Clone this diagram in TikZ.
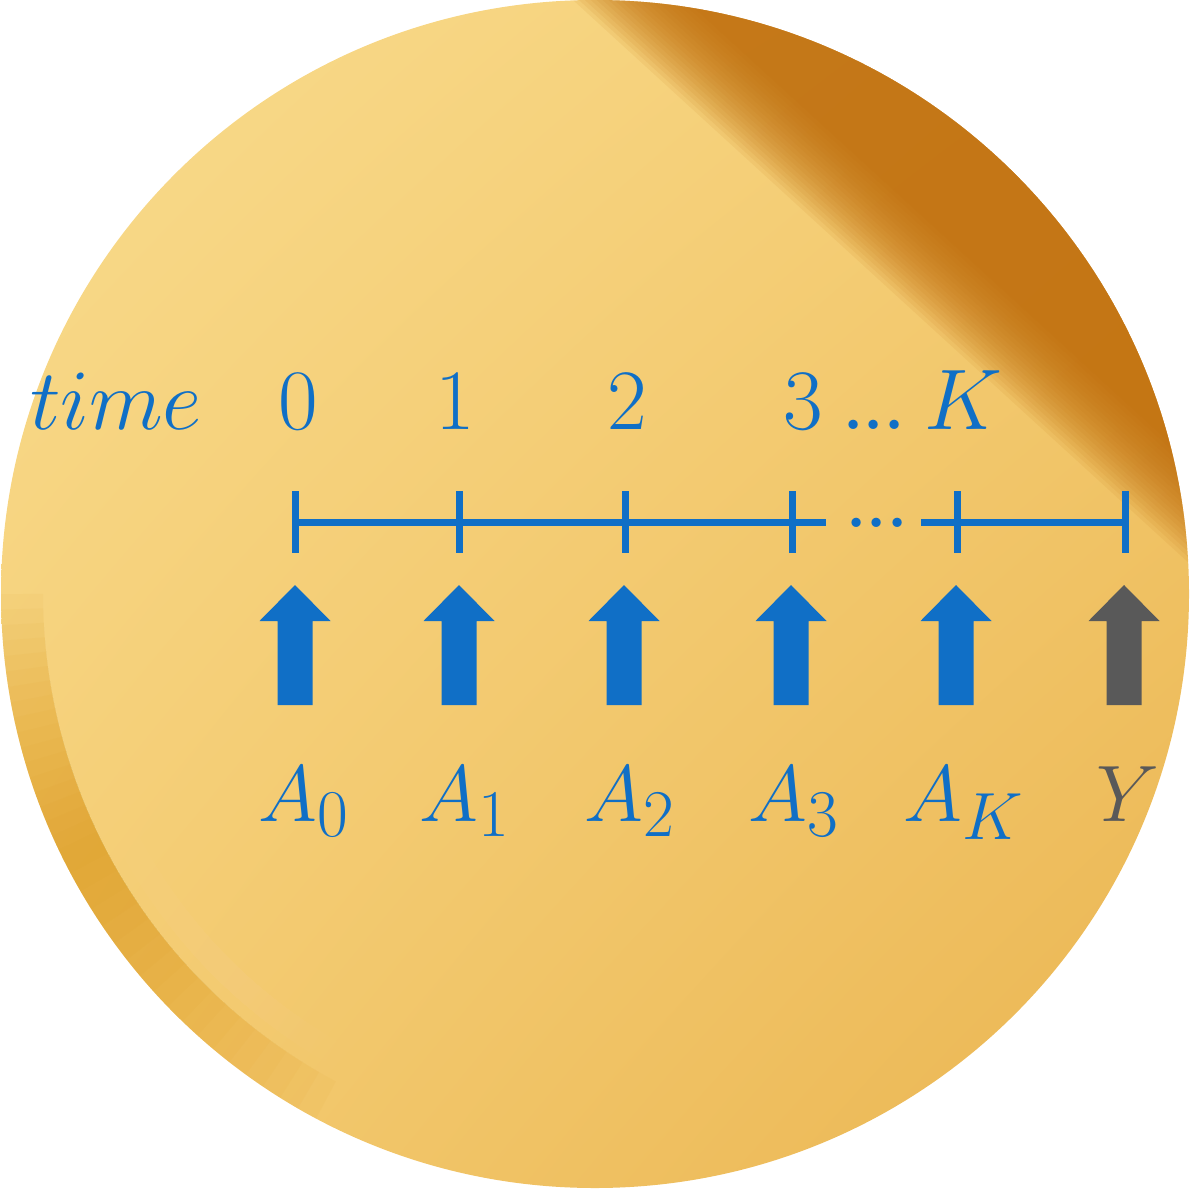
\documentclass[tikz,border=0pt]{standalone}
\usetikzlibrary{shadings}
\definecolor{tblue}{RGB}{16,111,198}
\definecolor{tgray}{RGB}{89,89,89}
\definecolor{goldA}{RGB}{249,220,142}
\definecolor{goldB}{RGB}{244,204,114}
\definecolor{goldC}{RGB}{234,180,80}
\definecolor{goldD}{RGB}{192,108,10}
\definecolor{goldE}{RGB}{222,152,24}
\begin{document}
\begin{tikzpicture}[x=1pt,y=-1pt,
  toplbl/.style={text=tblue, inner sep=0pt, anchor=base, font=\Huge, scale=3.46},
  dotlbl/.style={text=tblue, inner sep=0pt, anchor=base, font=\Huge\bfseries, scale=2.6},
  botlbl/.style={inner sep=0pt, anchor=base, font=\Huge, scale=3.22},
  tline/.style={draw=tblue, line width=7pt},
  uparrow/.pic={\fill[pic actions] (0,0) -- (35.5,36) -- (17.5,36) -- (17.5,120) -- (-17.5,120) -- (-17.5,36) -- (-35.5,36) -- cycle;}
]
\useasboundingbox (0,0) rectangle (1190,1188);
% gold satin disc
\begin{scope}
  \clip (595,594) circle (594);
  \shade[upper left=goldA, upper right=goldB, lower left=goldB, lower right=goldC] (0,0) rectangle (1190,1188);
  % dark fold at the top right
  \foreach \s in {-44,-40,...,32} {
    \fill[goldD, opacity=0.085, shift={(0.675*\s,-0.738*\s)}]
      (217,-385) -- (1626,903) -- (2638,-204) -- (1229,-1492) -- cycle;
  }
  % darker rim and highlight at the bottom left
  \foreach \i in {0,...,17} {
    \draw[goldE, line width=44pt, opacity=0.05]
      (595,594) ++(118+2*\i:574) arc[start angle=118+2*\i, end angle=180-1.5*\i, radius=574];
    \draw[goldA, line width=24pt, opacity=0.045]
      (595,594) ++(120+2*\i:528) arc[start angle=120+2*\i, end angle=174-1.5*\i, radius=528];
  }
\end{scope}
% top labels
\node[toplbl] (ttime) at (116,429) {$time$};
\node[toplbl] (t0) at (298,429) {$0$};
\node[toplbl] (t1) at (455,429) {$1$};
\node[toplbl] (t2) at (627,429) {$2$};
\node[toplbl] (t3) at (803,429) {$3$};
\node[dotlbl] (tdots) at (874,429) {...};
\node[toplbl] (tK) at (963,429) {$K$};
% time line
\coordinate (k0) at (295,522);
\coordinate (k1) at (459,522);
\coordinate (k2) at (625,522);
\coordinate (k3) at (792,522);
\coordinate (k4) at (957,522);
\coordinate (k5) at (1125,522);
\coordinate (g1) at (826,522);
\coordinate (g2) at (921,522);
\draw[tline] (k0) -- (g1);
\draw[tline] (g2) -- (k5);
\foreach \k in {k0,k1,k2,k3,k4,k5} {
  \draw[tline] ([yshift=31pt]\k) -- ([yshift=-31pt]\k);
}
\node[dotlbl] (mdots) at (877,527) {...};
% arrows
\pic[fill=tblue] at (295,585) {uparrow};
\pic[fill=tblue] at (459,585) {uparrow};
\pic[fill=tblue] at (624,585) {uparrow};
\pic[fill=tblue] at (791,585) {uparrow};
\pic[fill=tblue] at (956,585) {uparrow};
\pic[fill=tgray] at (1124,585) {uparrow};
% bottom labels
\node[botlbl, text=tblue] (a0) at (304,821) {$A_0$};
\node[botlbl, text=tblue] (a1) at (465,821) {$A_1$};
\node[botlbl, text=tblue] (a2) at (630,821) {$A_2$};
\node[botlbl, text=tblue] (a3) at (794,821) {$A_3$};
\node[botlbl, text=tblue] (aK) at (964,821) {$A_K$};
\node[botlbl, text=tgray] (y) at (1128,821) {$Y$};
\end{tikzpicture}
\end{document}
